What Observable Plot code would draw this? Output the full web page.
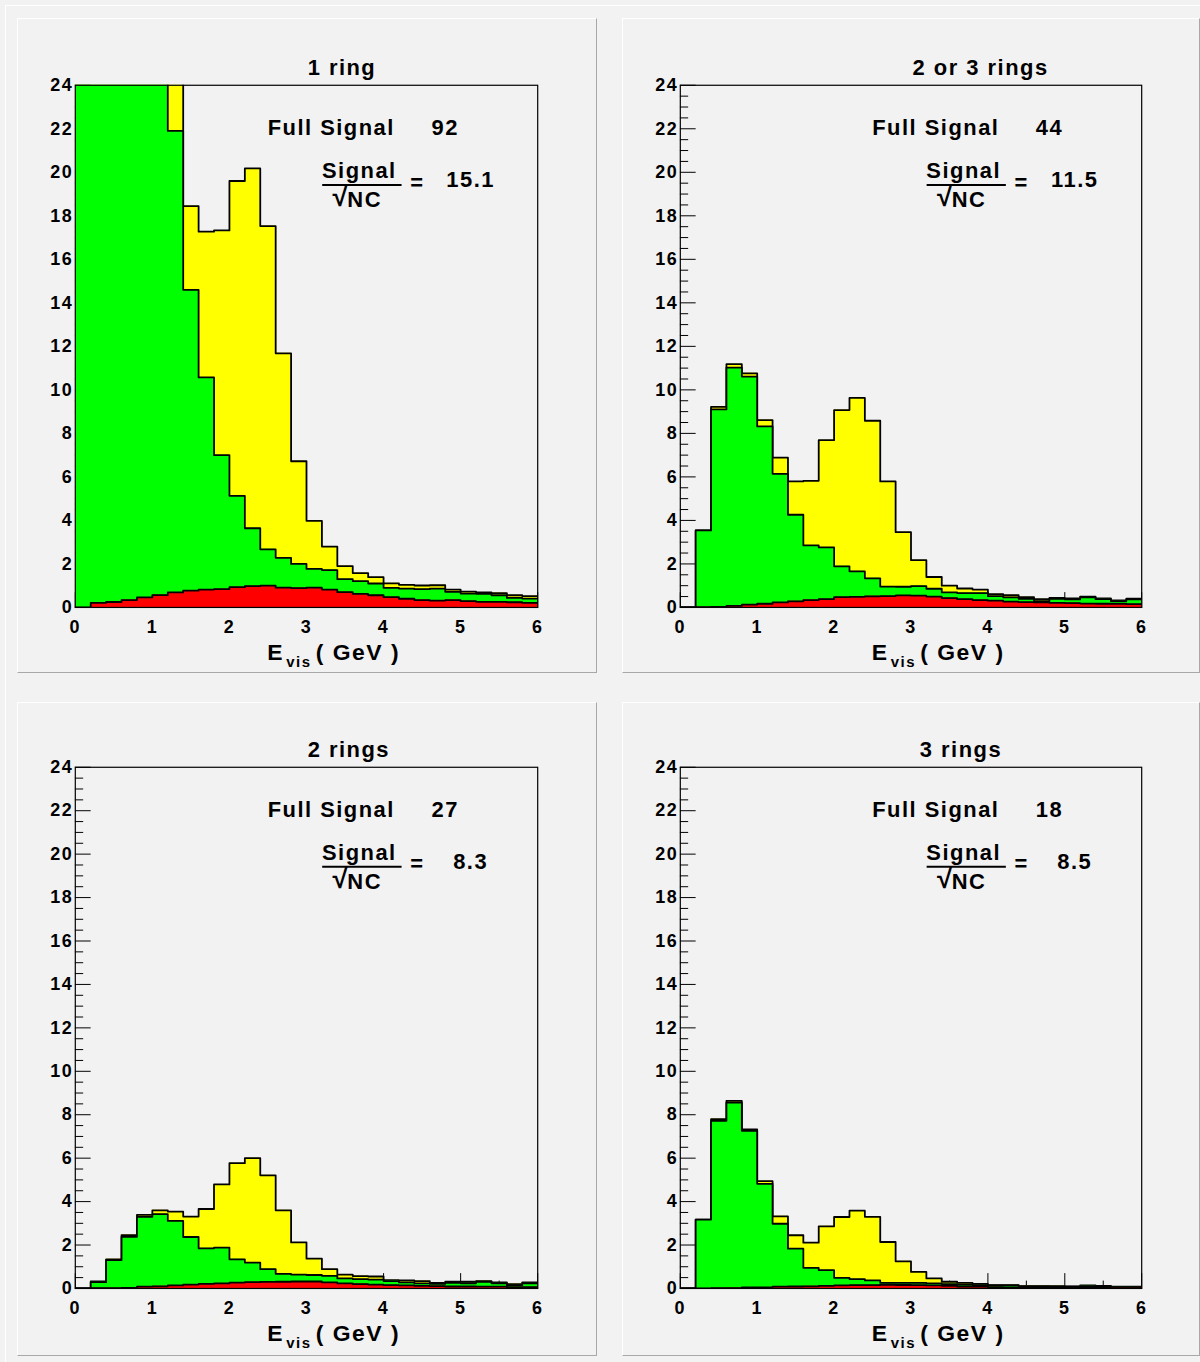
<!DOCTYPE html>
<html>
<head>
<meta charset="utf-8">
<script src="https://cdn.jsdelivr.net/npm/d3@7"></script>
<script src="https://cdn.jsdelivr.net/npm/@observablehq/plot@0.6"></script>
<style>
html, body { margin: 0; padding: 0; background: #f2f2f2; }
#canvas { position: relative; width: 1200px; height: 1362px; background: #f2f2f2; overflow: hidden; }
#outer { position: absolute; left: 5px; top: 5px; right: 0; bottom: 0; border-left: 1px solid #ffffff; border-top: 1px solid #ffffff; }
.pad { position: absolute; box-sizing: border-box; background: #f2f2f2;
  border-top: 1px solid #ffffff; border-left: 1px solid #ffffff;
  border-right: 1px solid #a8a8a8; border-bottom: 1px solid #a8a8a8; }
.pad svg { position: absolute; left: -1px; top: -1px; }
</style>
</head>
<body>
<div id="canvas"><div id="outer"></div></div>
<script>
// ---------------- data ----------------
const binLow = [0,0.2,0.4,0.6,0.8,1.0,1.2,1.4,1.6,1.8,2.0,2.2,2.4,2.6,2.8,3.0,3.2,3.4,3.6,3.8,4.0,4.2,4.4,4.6,4.8,5.0,5.2,5.4,5.6,5.8];
const xDomain = [0, 6];
const yDomain = [0, 24];
const xTicks = [0,1,2,3,4,5,6];
const xMinorTicks = [0.5,1.5,2.5,3.5,4.5,5.5];
const yTicks = [0,2,4,6,8,10,12,14,16,18,20,22,24];
const yMinorTicks = [0.5,1,1.5,2.5,3,3.5,4.5,5,5.5,6.5,7,7.5,8.5,9,9.5,10.5,11,11.5,12.5,13,13.5,14.5,15,15.5,16.5,17,17.5,18.5,19,19.5,20.5,21,21.5,22.5,23,23.5];

const titles = ["1 ring", "2 or 3 rings", "2 rings", "3 rings"];
const fullSignal = ["92", "44", "27", "18"];
const ratio = ["15.1", "11.5", "8.3", "8.5"];

// total (signal + background), drawn yellow
const total1 = [30,30,30,30,30,30,24.6,18.45,17.27,17.33,19.6,20.18,17.53,11.68,6.72,3.98,2.8,1.9,1.58,1.39,1.11,1.04,1.01,1.02,0.82,0.73,0.69,0.66,0.56,0.52];
const green1 = [30,30,30,30,30,30,21.9,14.6,10.57,7.0,5.13,3.64,2.67,2.28,2.0,1.77,1.72,1.3,1.21,1.10,0.90,0.87,0.84,0.87,0.72,0.64,0.63,0.56,0.44,0.41];
const red1   = [0,0.21,0.25,0.34,0.46,0.57,0.69,0.77,0.82,0.84,0.93,0.98,1.0,0.91,0.89,0.91,0.82,0.70,0.62,0.56,0.47,0.40,0.34,0.31,0.34,0.29,0.26,0.26,0.24,0.21];

const total2 = [0,3.54,9.22,11.18,10.76,8.61,6.89,5.79,5.82,7.69,9.07,9.63,8.58,5.79,3.46,2.17,1.40,1.0,0.87,0.82,0.61,0.56,0.47,0.38,0.44,0.41,0.50,0.41,0.32,0.40];
const green2 = [0,3.54,9.10,11.02,10.61,8.32,6.14,4.26,2.85,2.76,1.89,1.66,1.34,0.96,0.95,0.98,0.86,0.69,0.66,0.66,0.52,0.46,0.40,0.29,0.40,0.37,0.46,0.38,0.29,0.37];
const red2   = [0,0.01,0.03,0.07,0.13,0.17,0.23,0.28,0.34,0.38,0.47,0.49,0.51,0.52,0.55,0.54,0.50,0.43,0.38,0.34,0.31,0.27,0.24,0.23,0.21,0.20,0.18,0.17,0.17,0.15];

const total3 = [0,0.32,1.34,2.46,3.39,3.60,3.54,3.31,3.66,4.79,5.77,6.0,5.21,3.60,2.12,1.37,0.89,0.64,0.57,0.55,0.38,0.37,0.34,0.26,0.31,0.31,0.34,0.28,0.20,0.28];
const green3 = [0,0.29,1.31,2.38,3.30,3.42,3.11,2.37,1.85,1.88,1.34,1.19,0.89,0.67,0.64,0.62,0.58,0.46,0.43,0.41,0.34,0.28,0.23,0.21,0.26,0.24,0.31,0.24,0.15,0.24];
const red3   = [0,0.01,0.01,0.03,0.08,0.10,0.14,0.18,0.21,0.23,0.27,0.29,0.30,0.31,0.32,0.32,0.28,0.23,0.20,0.18,0.15,0.14,0.12,0.11,0.09,0.09,0.08,0.08,0.06,0.06];

const total4 = [0,3.17,7.80,8.64,7.32,4.94,3.32,2.45,2.11,2.86,3.29,3.58,3.30,2.14,1.25,0.76,0.46,0.31,0.26,0.21,0.15,0.15,0.11,0.11,0.11,0.09,0.14,0.12,0.08,0.08];
const green4 = [0,3.17,7.72,8.56,7.26,4.82,2.98,1.83,0.95,0.84,0.49,0.43,0.37,0.26,0.26,0.26,0.23,0.20,0.18,0.15,0.14,0.14,0.09,0.09,0.08,0.08,0.11,0.09,0.06,0.06];
const red4   = [0,0,0.01,0.02,0.05,0.05,0.08,0.09,0.10,0.12,0.14,0.15,0.15,0.17,0.16,0.15,0.14,0.12,0.09,0.08,0.06,0.05,0.05,0.05,0.03,0.03,0.03,0.03,0.02,0.02];

const totals = [total1, total2, total3, total4];
const greens = [green1, green2, green3, green4];
const reds = [red1, red2, red3, red4];

// ---------------- layout ----------------
const pads = [
  {left: 17,  top: 18,  w: 580, h: 655, mt: 67, fw: 464, fh: 524},
  {left: 622, top: 18,  w: 578, h: 655, mt: 67, fw: 463, fh: 524},
  {left: 17,  top: 702, w: 580, h: 654, mt: 65, fw: 464, fh: 523},
  {left: 622, top: 702, w: 578, h: 654, mt: 65, fw: 463, fh: 523}
];
const titleX = [3.46, 3.905, 3.55, 3.65];

const fontFamily = "'Liberation Sans', Arial, Helvetica, sans-serif";
const tickShape = { draw(context, l) { context.moveTo(0, 0); context.lineTo(0, -l); } };

function stepRows(values) {
  const rows = binLow.map((x, i) => ({x, v: values[i]}));
  rows.push({x: xDomain[1], v: values[values.length - 1]});
  return rows;
}

function hist(values, color) {
  const rows = stepRows(values);
  return [
    Plot.areaY(rows, {x: "x", y: "v", curve: "step-after", fill: color, clip: true}),
    Plot.lineY(rows, {x: "x", y: "v", curve: "step-after", stroke: "black", strokeWidth: 1.8, clip: true})
  ];
}

function panel(i) {
  const p = pads[i];
  const txt = (s, o) => Plot.text([s], {text: d => d, fill: "black", fontWeight: "bold", lineAnchor: "middle", ...o});
  return Plot.plot({
    width: p.w, height: p.h,
    marginLeft: 58, marginRight: p.w - 58 - p.fw,
    marginTop: p.mt, marginBottom: p.h - p.mt - p.fh,
    x: {domain: xDomain},
    y: {domain: yDomain},
    style: {background: "transparent", fontFamily, fontWeight: "bold", letterSpacing: "1.5px", color: "black", overflow: "visible"},
    marks: [
      // inward ticks (drawn first, histograms cover them)
      Plot.vector(xTicks, {x: d => d, y: 0, length: 15, rotate: 0, anchor: "start", shape: tickShape, stroke: "black", strokeWidth: 1}),
      Plot.vector(xMinorTicks, {x: d => d, y: 0, length: 7.5, rotate: 0, anchor: "start", shape: tickShape, stroke: "black", strokeWidth: 1}),
      Plot.vector(yTicks, {x: 0, y: d => d, length: 15, rotate: 90, anchor: "start", shape: tickShape, stroke: "black", strokeWidth: 1}),
      Plot.vector(yMinorTicks, {x: 0, y: d => d, length: 7.5, rotate: 90, anchor: "start", shape: tickShape, stroke: "black", strokeWidth: 1}),
      // histograms
      ...hist(totals[i], "#ffff00"),
      ...hist(greens[i], "#00ff00"),
      ...hist(reds[i], "#ff0000"),
      // axis labels
      Plot.axisY({ticks: yTicks, tickSize: 0, tickPadding: 2, tickFormat: d3.format("d"), fontSize: 18, fontWeight: "bold", fill: "black", label: null}),
      Plot.axisX({ticks: xTicks, tickSize: 0, tickPadding: 13, tickFormat: d3.format("d"), fontSize: 18, fontWeight: "bold", fill: "black", label: null}),
      Plot.frame({stroke: "black", strokeWidth: 1.2}),
      // title
      txt(titles[i], {x: titleX[i], frameAnchor: "top", dy: -17, fontSize: 22}),
      // annotations
      txt("Full Signal", {x: 2.496, y: 22.03, textAnchor: "start", fontSize: 22}),
      txt(fullSignal[i], {x: 4.80, y: 22.03, fontSize: 22}),
      txt("Signal", {x: 3.685, y: 20.06, fontSize: 22}),
      Plot.ruleY([19.42], {x1: 3.21, x2: 4.24, stroke: "black", strokeWidth: 2}),
      txt("\u221A", {x: 3.53, y: 18.85, textAnchor: "end", fontSize: 28, dx: 2}),
      txt("NC", {x: 3.53, y: 18.74, textAnchor: "start", fontSize: 22}),
      txt("=", {x: 4.44, y: 19.53, fontSize: 22}),
      txt(ratio[i], {x: 5.13, y: 19.65, fontSize: 22}),
      // x axis title  E_vis ( GeV )
      txt("E", {x: 2.49, frameAnchor: "bottom", dy: 45, textAnchor: "start", fontSize: 23}),
      txt("vis", {x: 2.737, frameAnchor: "bottom", dy: 55, textAnchor: "start", fontSize: 15}),
      txt("( GeV )", {x: 3.12, frameAnchor: "bottom", dy: 45, textAnchor: "start", fontSize: 23})
    ]
  });
}

const canvas = document.getElementById("canvas");
pads.forEach((p, i) => {
  const div = document.createElement("div");
  div.className = "pad";
  div.style.left = p.left + "px";
  div.style.top = p.top + "px";
  div.style.width = p.w + "px";
  div.style.height = p.h + "px";
  div.appendChild(panel(i));
  canvas.appendChild(div);
});
</script>
</body>
</html>
